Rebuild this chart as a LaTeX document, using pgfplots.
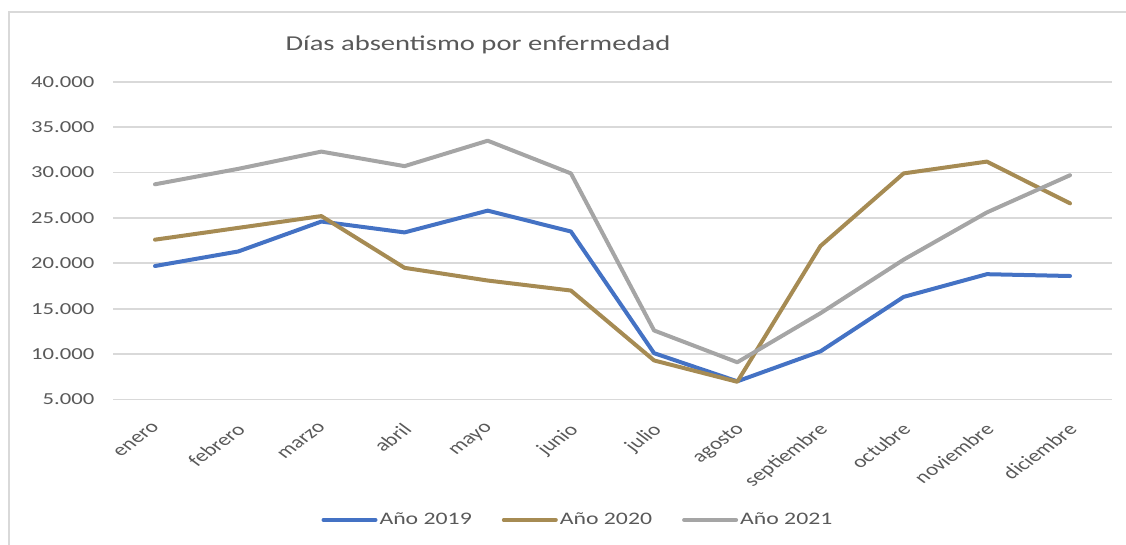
\documentclass[border=0pt]{standalone}
\usepackage{fontspec}
\setmainfont{Carlito}[FakeStretch=1.35]
\newfontfamily\plainfont{Carlito}
\usepackage{pgfplots}
\pgfplotsset{compat=1.18}
\definecolor{cA}{HTML}{4472C4}
\definecolor{cB}{RGB}{166,139,83}
\definecolor{cC}{HTML}{A5A5A5}
\definecolor{txt}{HTML}{595959}
\definecolor{gridc}{HTML}{D9D9D9}
\begin{document}
\begin{tikzpicture}
\useasboundingbox (0,0) rectangle (563pt,272.5pt);
\draw[gridc, line width=1pt] (4.5pt,0pt) -- (4.5pt,266.5pt) -- (563pt,266.5pt);
\node[txt, font=\fontsize{10.6}{12}\selectfont] at (239pt,250pt) {Días absentismo por enfermedad};
\begin{axis}[
  at={(56.7pt,72.75pt)}, anchor=south west,
  scale only axis, width=499.1pt, height=158.9pt,
  xmin=-0.5, xmax=11.5, ymin=5000, ymax=40000,
  xtick={0,...,11},
  xticklabels={enero,febrero,marzo,abril,mayo,junio,julio,agosto,septiembre,octubre,noviembre,diciembre},
  ytick={5000,10000,...,40000},
  ymajorgrids, grid style={gridc, line width=0.9pt},
  axis line style={draw=none},
  major tick length=0pt,
  scaled y ticks=false,
  /pgf/number format/assume math mode=true,
  yticklabel={\pgfmathprintnumber[fixed,1000 sep={.}]{\tick}},
  yticklabel style={txt, font=\fontsize{8.4}{10}\selectfont, anchor=east, xshift=-6pt},
  xticklabel style={txt, font=\plainfont\fontsize{8.6}{10}\selectfont, xshift=-1.5pt, yshift=-6.5pt, xscale=1.35, rotate=45, anchor=north east},
  legend columns=3,
  legend style={at={(0.4654,-0.379)}, anchor=center, draw=none, fill=none,
    font=\fontsize{8.8}{10}\selectfont, text=txt,
    /tikz/every even column/.append style={column sep=14pt},
    nodes={inner sep=1pt}},
  legend image code/.code={\draw[#1, line width=2pt, line cap=round] (0pt,0pt) -- (26pt,0pt);},
  every axis plot/.append style={line width=2pt, line cap=round, line join=round},
]
\addplot[cA] coordinates {(0,19700)(1,21300)(2,24600)(3,23400)(4,25800)(5,23500)(6,10100)(7,7000)(8,10300)(9,16300)(10,18800)(11,18600)};
\addlegendentry{Año 2019}
\addplot[cB] coordinates {(0,22600)(1,23900)(2,25200)(3,19500)(4,18100)(5,17000)(6,9300)(7,6950)(8,21900)(9,29900)(10,31200)(11,26600)};
\addlegendentry{Año 2020}
\addplot[cC] coordinates {(0,28700)(1,30400)(2,32300)(3,30700)(4,33500)(5,29900)(6,12600)(7,9100)(8,14500)(9,20400)(10,25600)(11,29700)};
\addlegendentry{Año 2021}
\end{axis}
\end{tikzpicture}
\end{document}
